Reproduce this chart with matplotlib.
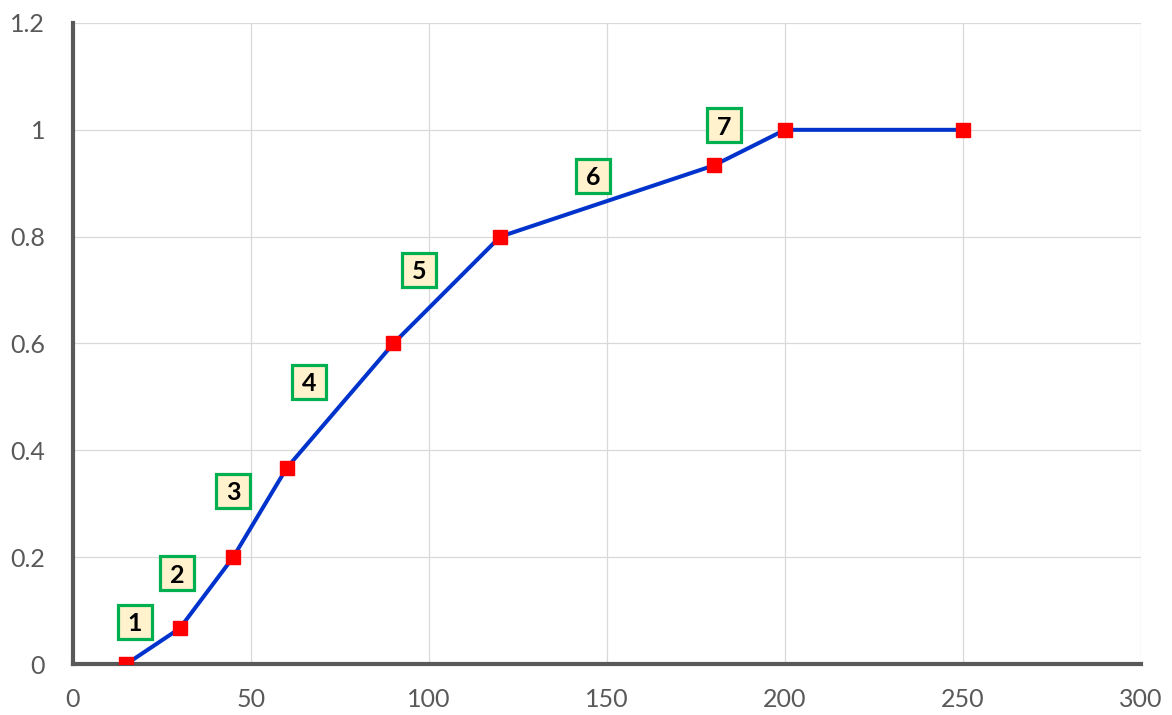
import matplotlib.pyplot as plt

# curve points
x_vals = [15, 30, 45, 60, 90, 120, 180, 200, 250]
y_vals = [0, 0.0667, 0.2, 0.3667, 0.6, 0.8, 0.9333, 1.0, 1.0]

# segment labels and where they sit
seg_labels = ['1', '2', '3', '4', '5', '6', '7']
seg_x = [17.4, 29.2, 45.0, 66.3, 97.3, 146.2, 183.0]
seg_y = [0.079, 0.170, 0.324, 0.528, 0.738, 0.914, 1.009]

x_ticks = [0, 50, 100, 150, 200, 250, 300]
y_ticks = [0, 0.2, 0.4, 0.6, 0.8, 1.0, 1.2]
y_ticklabels = ['0', '0.2', '0.4', '0.6', '0.8', '1', '1.2']

plt.rcParams['font.family'] = ['Lato', 'DejaVu Sans']

fig = plt.figure(figsize=(11.72, 7.15), dpi=100)
ax = fig.add_axes([73/1172, 1 - 664/715, (1141-73)/1172, (664-23)/715])

ax.plot(x_vals, y_vals, color='#0033CC', lw=2.9, zorder=3)
ax.plot(x_vals, y_vals, ls='none', marker='s', ms=10.5, mfc='#FF0000', mec='#FF0000', zorder=4)

# label boxes: square markers with the number on top
ax.plot(seg_x, seg_y, ls='none', marker='s', ms=24, mfc='#FFF2CC', mec='#00B050', mew=2.3,
        zorder=5, clip_on=False)
for lab, lx, ly in zip(seg_labels, seg_x, seg_y):
    ax.text(lx, ly, lab, ha='center', va='center_baseline', fontsize=18, fontweight='bold',
            color='black', zorder=6)

ax.set_xlim(0, 300)
ax.set_ylim(0, 1.2)
ax.set_xticks(x_ticks)
ax.set_yticks(y_ticks)
ax.set_yticklabels(y_ticklabels)
ax.grid(True, color='#D9D9D9', lw=0.9)
ax.set_axisbelow(True)
ax.tick_params(length=0, labelsize=18, labelcolor='#595959')
ax.tick_params(axis='x', pad=17)
ax.tick_params(axis='y', pad=20)

for side in ['top', 'right']:
    ax.spines[side].set_visible(False)
for side in ['left', 'bottom']:
    ax.spines[side].set_color('#595959')
    ax.spines[side].set_linewidth(3)

fig.savefig('out.png', dpi=100)
